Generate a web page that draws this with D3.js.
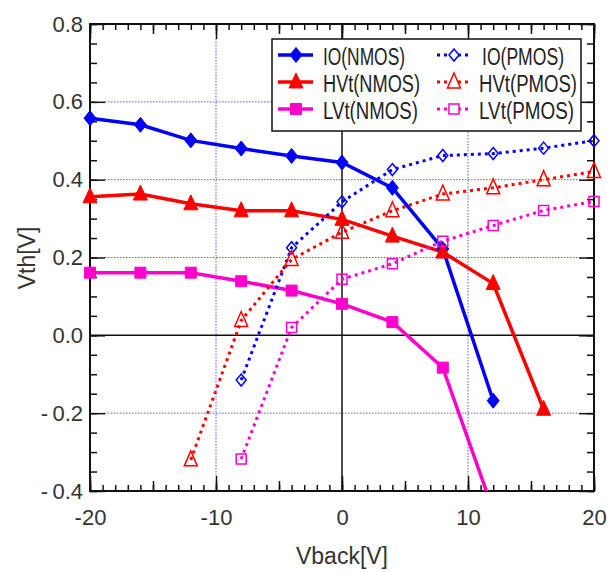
<!DOCTYPE html>
<html>
<head>
<meta charset="utf-8">
<script src="https://cdn.jsdelivr.net/npm/d3@7"></script>
<style>
    body { margin: 0; background: #fff; }
    text { font-family: "Liberation Sans", Arial, sans-serif; fill: #222; }
</style>
</head>
<body>
<div id="chart"></div>
<script>
// Vback values (V)
var vbackNMOS = [-20, -16, -12, -8, -4, 0, 4, 8, 12, 16]
var vbackPMOS = [-12, -8, -4, 0, 4, 8, 12, 16, 20]

// Vth values (null = no point)
var ioNMOS = [0.558, 0.541, 0.501, 0.480, 0.461, 0.444, 0.379, 0.222, -0.168, null]
var hvtNMOS = [0.356, 0.363, 0.338, 0.320, 0.320, 0.298, 0.255, 0.214, 0.133, -0.190]
var lvtNMOS = [0.161, 0.161, 0.161, 0.139, 0.115, 0.081, 0.034, -0.083, -0.45, null]
var ioPMOS = [null, -0.115, 0.225, 0.343, 0.426, 0.462, 0.467, 0.481, 0.500]
var hvtPMOS = [-0.320, 0.038, 0.195, 0.265, 0.320, 0.363, 0.379, 0.400, 0.421]
var lvtPMOS = [null, -0.318, 0.020, 0.144, 0.184, 0.242, 0.282, 0.321, 0.344]

var seriesNames = ["IO(NMOS)", "HVt(NMOS)", "LVt(NMOS)", "IO(PMOS)", "HVt(PMOS)", "LVt(PMOS)"]

var xTicks = [-20, -10, 0, 10, 20]
var yTicks = [-0.4, -0.2, 0.0, 0.2, 0.4, 0.6, 0.8]

var blue = "#0000ff", red = "#ff0000", pink = "#ff00cc"

function pairs(xs, ys) {
    var out = []
    for (var i in xs) {
        if (ys[i] !== null) out.push([xs[i], ys[i]])
    }
    return out
}

var series = [
    {name: seriesNames[0], data: pairs(vbackNMOS, ioNMOS), color: blue, shape: "diamond", filled: true},
    {name: seriesNames[1], data: pairs(vbackNMOS, hvtNMOS), color: red, shape: "triangle", filled: true},
    {name: seriesNames[2], data: pairs(vbackNMOS, lvtNMOS), color: pink, shape: "square", filled: true},
    {name: seriesNames[3], data: pairs(vbackPMOS, ioPMOS), color: blue, shape: "diamond", filled: false},
    {name: seriesNames[4], data: pairs(vbackPMOS, hvtPMOS), color: red, shape: "triangle", filled: false},
    {name: seriesNames[5], data: pairs(vbackPMOS, lvtPMOS), color: pink, shape: "square", filled: false}
]

var width = 610, height = 572
var pLeft = 90, pRight = 594, pTop = 24, pBottom = 491

var x = d3.scaleLinear().domain([-20, 20]).range([pLeft, pRight])
var y = d3.scaleLinear().domain([-0.4, 0.8]).range([pBottom, pTop])

// plain hyphen for negatives, like the original
function fmt(p, gap) {
    return function (d) {
        var s = Math.abs(d).toFixed(p)
        return d < 0 ? "-" + gap + s : s
    }
}

var svg = d3.select("#chart").append("svg")
    .attr("width", width)
    .attr("height", height)

svg.append("defs").append("clipPath").attr("id", "plot")
    .append("rect")
    .attr("x", pLeft).attr("y", pTop)
    .attr("width", pRight - pLeft).attr("height", pBottom - pTop)

// marker paths
function markerPath(shape, filled) {
    if (shape == "diamond") {
        var w = filled ? 6 : 5, h = filled ? 7.5 : 6
        return "M0," + (-h) + "L" + w + ",0L0," + h + "L" + (-w) + ",0Z"
    }
    if (shape == "triangle") {
        var w = filled ? 7 : 6.5
        return "M0,-9L" + w + ",6L" + (-w) + ",6Z"
    }
    var s = filled ? 5.5 : 5
    return "M" + (-s) + "," + (-s) + "H" + s + "V" + s + "H" + (-s) + "Z"
}

// grid lines
var gx = [-10, 10], gy = [0.6, 0.4, 0.2, -0.2]
svg.append("g").selectAll("line").data(gy).enter().append("line")
    .attr("x1", pLeft + 15).attr("x2", pRight - 15)
    .attr("y1", function (d) { return y(d) }).attr("y2", function (d) { return y(d) })
    .attr("stroke", "#5a5aff").attr("stroke-width", 1).attr("stroke-dasharray", "1.5,1.5")
svg.append("g").selectAll("line").data(gx).enter().append("line")
    .attr("y1", pTop + 15).attr("y2", pBottom - 15)
    .attr("x1", function (d) { return x(d) }).attr("x2", function (d) { return x(d) })
    .attr("stroke", "#5a5aff").attr("stroke-width", 1).attr("stroke-dasharray", "1.5,1.5")

// zero lines
svg.append("line").attr("x1", pLeft).attr("x2", pRight).attr("y1", y(0)).attr("y2", y(0))
    .attr("stroke", "#111").attr("stroke-width", 1.5)
svg.append("line").attr("y1", pTop).attr("y2", pBottom).attr("x1", x(0)).attr("x2", x(0))
    .attr("stroke", "#111").attr("stroke-width", 1.5)

// ticks: minor, medium and major, on all four sides pointing inward
var xMinor = d3.range(-20, 21, 1), xMid = d3.range(-20, 21, 5)
var yMinor = d3.range(-8, 17).map(function (d) { return d * 0.05 })

function tickAxis(axis, values, size, transform) {
    var g = svg.append("g")
        .attr("transform", transform)
        .call(axis.tickValues(values).tickSizeInner(-size).tickSizeOuter(0).tickFormat(""))
    g.select(".domain").remove()
    g.selectAll("line").attr("stroke", "#111").attr("stroke-width", 1.5)
    return g
}

tickAxis(d3.axisBottom(x), xMinor, 6, "translate(0," + pBottom + ")")
tickAxis(d3.axisBottom(x), xMid, 10, "translate(0," + pBottom + ")")
tickAxis(d3.axisTop(x), xMinor, 6, "translate(0," + pTop + ")")
tickAxis(d3.axisTop(x), xMid, 10, "translate(0," + pTop + ")")
tickAxis(d3.axisLeft(y), yMinor, 7, "translate(" + pLeft + ",0)")
tickAxis(d3.axisRight(y), yMinor, 7, "translate(" + pRight + ",0)")
tickAxis(d3.axisTop(x), xTicks, 15, "translate(0," + pTop + ")")
tickAxis(d3.axisRight(y), yTicks, 15, "translate(" + pRight + ",0)")

// labelled axes
var xAxis = svg.append("g")
    .attr("transform", "translate(0," + pBottom + ")")
    .call(d3.axisBottom(x).tickValues(xTicks).tickSizeInner(-15).tickSizeOuter(0).tickPadding(18)
        .tickFormat(fmt(0, "")))
xAxis.select(".domain").remove()
xAxis.selectAll("line").attr("stroke", "#111").attr("stroke-width", 1.5)
xAxis.selectAll("text").style("font-size", "22px").style("fill", "#333")

var yAxis = svg.append("g")
    .attr("transform", "translate(" + pLeft + ",0)")
    .call(d3.axisLeft(y).tickValues(yTicks).tickSizeInner(-15).tickSizeOuter(0).tickPadding(7)
        .tickFormat(fmt(1, "\u2009")))
yAxis.select(".domain").remove()
yAxis.selectAll("line").attr("stroke", "#111").attr("stroke-width", 1.5)
yAxis.selectAll("text").style("font-size", "22px").style("fill", "#333")

// frame
svg.append("rect")
    .attr("x", pLeft).attr("y", pTop)
    .attr("width", pRight - pLeft).attr("height", pBottom - pTop)
    .attr("fill", "none").attr("stroke", "#111").attr("stroke-width", 2)

// axis titles
svg.append("text")
    .attr("x", (pLeft + pRight) / 2).attr("y", 564)
    .attr("text-anchor", "middle")
    .style("font-size", "23px")
    .style("fill", "#333")
    .text("Vback[V]")
svg.append("text")
    .attr("transform", "translate(35," + 258 + ") rotate(-90)")
    .attr("text-anchor", "middle")
    .style("font-size", "23px")
    .style("fill", "#333")
    .text("Vth[V]")

// data lines (clipped to the frame) and markers (not clipped)
var line = d3.line()
    .x(function (d) { return x(d[0]) })
    .y(function (d) { return y(d[1]) })

var plot = svg.append("g").attr("clip-path", "url(#plot)")

series.forEach(function (s) {
    plot.append("path")
        .datum(s.data)
        .attr("d", line)
        .attr("fill", "none")
        .attr("stroke", s.color)
        .attr("stroke-width", s.filled ? 3.5 : 3)
        .attr("stroke-dasharray", s.filled ? null : "3,4")
})

var marks = svg.append("g")
series.forEach(function (s) {
    marks.selectAll(null)
        .data(s.data.filter(function (d) { return d[1] >= -0.4 }))
        .enter().append("path")
        .attr("transform", function (d) { return "translate(" + x(d[0]) + "," + y(d[1]) + ")" })
        .attr("d", markerPath(s.shape, s.filled))
        .attr("fill", s.filled ? s.color : "none")
        .attr("stroke", s.color)
        .attr("stroke-width", s.filled ? 1 : 1.5)
})

// legend
var legend = svg.append("g")
legend.append("rect")
    .attr("x", 272).attr("y", 39).attr("width", 309).attr("height", 92)
    .attr("fill", "#fff").attr("stroke", "#111").attr("stroke-width", 1.5)

var rowsY = [55, 82, 109]
var colX = [{x1: 278, x2: 313, m: 296, t: 323}, {x1: 437, x2: 470, m: 454, t: 479}]
var textWidths = [82, 97, 95, 82, 98, 95]

series.forEach(function (s, i) {
    var c = colX[Math.floor(i / 3)], ry = rowsY[i % 3]
    legend.append("line")
        .attr("x1", c.x1).attr("x2", c.x2).attr("y1", ry).attr("y2", ry)
        .attr("stroke", s.color)
        .attr("stroke-width", s.filled ? 3.5 : 3)
        .attr("stroke-dasharray", s.filled ? null : "3,4")
    legend.append("path")
        .attr("transform", "translate(" + c.m + "," + ry + ")")
        .attr("d", markerPath(s.shape, s.filled))
        .attr("fill", s.filled ? s.color : "#fff")
        .attr("stroke", s.color)
        .attr("stroke-width", s.filled ? 1 : 1.5)
    legend.append("text")
        .attr("x", c.t + (i == 3 ? 3 : 0)).attr("y", ry + 10)
        .attr("textLength", textWidths[i])
        .attr("lengthAdjust", "spacingAndGlyphs")
        .style("font-size", "23px")
        .text(s.name)
})
</script>
</body>
</html>
